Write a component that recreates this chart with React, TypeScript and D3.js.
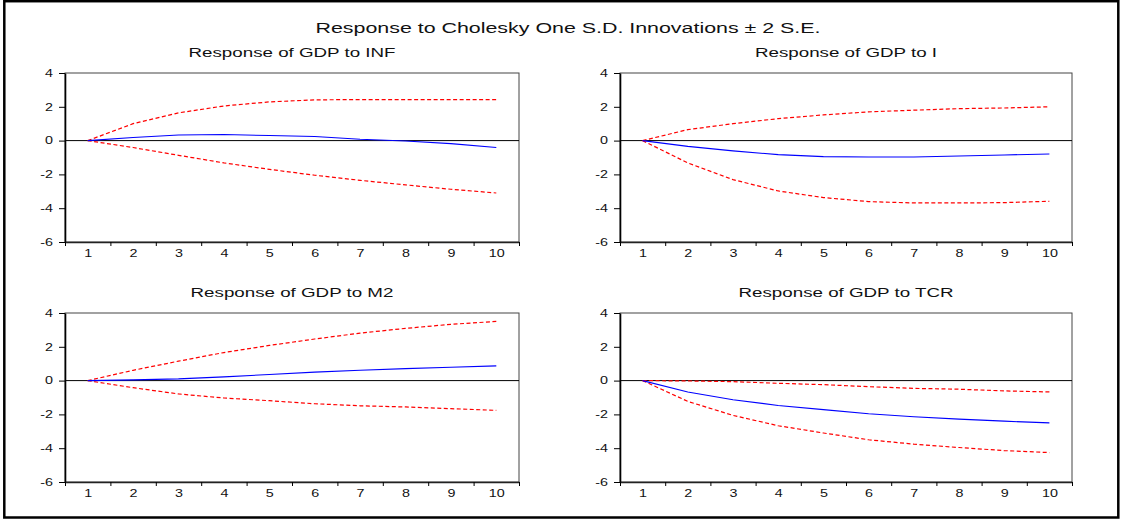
import * as d3 from "d3";
import React, { useEffect, useRef } from "react";

// impulse response periods and y ticks
const periods = [1, 2, 3, 4, 5, 6, 7, 8, 9, 10];
const yTicks = [-6, -4, -2, 0, 2, 4];

// Response of GDP to INF
const infResp = [0, 0.18, 0.33, 0.36, 0.3, 0.24, 0.08, -0.02, -0.18, -0.41];
const infUpper = [0, 1.0, 1.64, 2.05, 2.29, 2.41, 2.43, 2.43, 2.43, 2.43];
const infLower = [0, -0.41, -0.87, -1.32, -1.7, -2.05, -2.35, -2.62, -2.88, -3.1];

// Response of GDP to I
const iResp = [0, -0.34, -0.61, -0.83, -0.95, -0.97, -0.97, -0.91, -0.85, -0.79];
const iUpper = [0, 0.65, 1.0, 1.3, 1.52, 1.7, 1.8, 1.89, 1.93, 2.0];
const iLower = [0, -1.32, -2.31, -2.98, -3.37, -3.61, -3.69, -3.69, -3.67, -3.59];

// Response of GDP to M2
const m2Resp = [0, 0.04, 0.1, 0.22, 0.36, 0.5, 0.61, 0.71, 0.79, 0.87];
const m2Upper = [0, 0.61, 1.15, 1.66, 2.08, 2.46, 2.81, 3.09, 3.33, 3.5];
const m2Lower = [0, -0.42, -0.79, -1.03, -1.19, -1.37, -1.49, -1.56, -1.66, -1.76];

// Response of GDP to TCR
const tcrResp = [0, -0.67, -1.13, -1.47, -1.72, -1.96, -2.14, -2.28, -2.4, -2.5];
const tcrUpper = [0, -0.02, -0.06, -0.16, -0.24, -0.36, -0.46, -0.51, -0.61, -0.67];
const tcrLower = [0, -1.23, -2.06, -2.67, -3.1, -3.5, -3.76, -3.96, -4.14, -4.26];

const mainTitle = "Response to Cholesky One S.D. Innovations \u00b1 2 S.E.";

const panels = [
  { title: "Response of GDP to INF", resp: infResp, upper: infUpper, lower: infLower, col: 0, row: 0 },
  { title: "Response of GDP to I", resp: iResp, upper: iUpper, lower: iLower, col: 1, row: 0 },
  { title: "Response of GDP to M2", resp: m2Resp, upper: m2Upper, lower: m2Lower, col: 0, row: 1 },
  { title: "Response of GDP to TCR", resp: tcrResp, upper: tcrUpper, lower: tcrLower, col: 1, row: 1 },
];

const W = 1124;
const H = 522;
const FONT = "'Liberation Sans', Arial, Helvetica, sans-serif";
// the picture is stretched sideways, so every text gets the same x scale
const STRETCH = 1.39;
const cols = [
  [65, 519],
  [620, 1072],
];
const rows = [
  [73, 242],
  [313, 482],
];

export default function App() {
  const ref = useRef<SVGSVGElement>(null);

  useEffect(() => {
    const svg = d3.select(ref.current);
    svg.selectAll("*").remove();

    // outer frame
    svg
      .append("rect")
      .attr("x", 4.3)
      .attr("y", 1.2)
      .attr("width", 1114)
      .attr("height", 516.3)
      .attr("fill", "#fff")
      .attr("stroke", "#000")
      .attr("stroke-width", 2.5);

    svg
      .append("text")
      .attr("transform", `translate(568,33) scale(${STRETCH},1)`)
      .attr("text-anchor", "middle")
      .attr("font-family", FONT)
      .attr("font-size", 15.4)
      .attr("fill", "#111")
      .text(mainTitle);

    panels.forEach((p) => {
      const [x0, x1] = cols[p.col];
      const [y0, y1] = rows[p.row];
      const g = svg.append("g");

      const x = d3.scaleLinear().domain([0.5, 10.5]).range([x0, x1]);
      const y = d3.scaleLinear().domain([-6, 4]).range([y1, y0]);

      // title
      g.append("text")
        .attr("transform", `translate(${(x0 + x1) / 2},${y0 - 16}) scale(${STRETCH},1)`)
        .attr("text-anchor", "middle")
        .attr("font-family", FONT)
        .attr("font-size", 13.5)
        .attr("fill", "#111")
        .text(p.title);

      // plot box
      g.append("rect")
        .attr("x", x0)
        .attr("y", y0)
        .attr("width", x1 - x0)
        .attr("height", y1 - y0)
        .attr("fill", "none")
        .attr("stroke", "#444")
        .attr("stroke-width", 1);

      // y axis
      const yAx = g
        .append("g")
        .attr("transform", `translate(${x0},0)`)
        .call(
          d3
            .axisLeft(y)
            .tickValues(yTicks)
            .tickSize(6)
            .tickSizeOuter(0)
            .tickPadding(6)
            .tickFormat((d) => String(d))
        );
      yAx.select(".domain").attr("stroke", "#000").attr("stroke-width", 1.6);
      yAx.selectAll(".tick line").attr("stroke", "#000");
      yAx
        .selectAll(".tick text")
        .attr("x", null)
        .attr("transform", `translate(-12,0) scale(${STRETCH},1)`)
        .attr("font-family", FONT)
        .attr("font-size", 10.3)
        .attr("fill", "#111");

      // x axis: ticks on the period boundaries
      const bounds = periods.map((d) => d - 0.5).concat([10.5]);
      const xAx = g
        .append("g")
        .attr("transform", `translate(0,${y1})`)
        .call(d3.axisBottom(x).tickValues(bounds).tickSize(4).tickSizeOuter(0).tickFormat(() => ""));
      xAx.select(".domain").attr("stroke", "#222").attr("stroke-width", 1.3);
      xAx.selectAll(".tick line").attr("stroke", "#000");

      // x labels at period centres
      const xLab = g
        .append("g")
        .attr("transform", `translate(0,${y1})`)
        .call(d3.axisBottom(x).tickValues(periods).tickSize(0).tickFormat((d) => String(d)));
      xLab.select(".domain").remove();
      xLab
        .selectAll(".tick text")
        .attr("y", null)
        .attr("dy", "0.32em")
        .attr("transform", `translate(0,12) scale(${STRETCH},1)`)
        .attr("font-family", FONT)
        .attr("font-size", 10.3)
        .attr("fill", "#111");

      // zero line
      g.append("line")
        .attr("x1", x0)
        .attr("x2", x1)
        .attr("y1", y(0))
        .attr("y2", y(0))
        .attr("stroke", "#000")
        .attr("stroke-width", 1);

      const line = d3
        .line<number>()
        .x((d, i) => x(periods[i]))
        .y((d) => y(d));

      // +/- 2 S.E. bands
      [p.upper, p.lower].forEach((band) => {
        g.append("path")
          .attr("d", line(band))
          .attr("fill", "none")
          .attr("stroke", "#ff0000")
          .attr("stroke-width", 1.2)
          .attr("stroke-dasharray", "4,2.5");
      });

      // response
      g.append("path")
        .attr("d", line(p.resp))
        .attr("fill", "none")
        .attr("stroke", "#0000ff")
        .attr("stroke-width", 1.1);
    });
  }, []);

  return (
    <svg
      ref={ref}
      width={W}
      height={H}
      style={{ position: "absolute", left: 0, top: 0, display: "block", background: "#fff" }}
    />
  );
}
